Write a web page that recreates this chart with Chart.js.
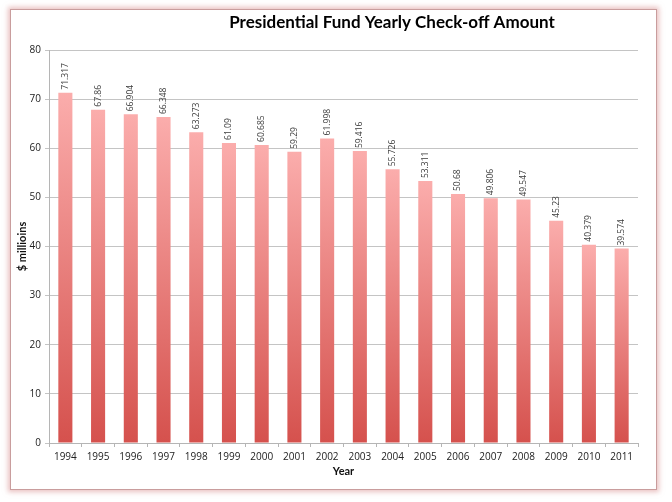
<!DOCTYPE html>
<html>
<head>
<meta charset="utf-8">
<script src="https://cdn.jsdelivr.net/npm/chart.js@4/dist/chart.umd.min.js"></script>
<style>
  html, body { margin: 0; padding: 0; background: #fff; }
  #wrap { position: relative; width: 672px; height: 502px; }
  #cadre {
    position: absolute; left: 10px; top: 9px; width: 645px; height: 479px;
    border: 1px solid #c99d9d; background: #fff;
    box-shadow: 0 0 5px 2px rgba(215, 140, 140, 0.55);
  }
  #graphique { position: absolute; left: 0; top: 0; }
</style>
</head>
<body>
<div id="wrap">
  <div id="cadre"></div>
  <canvas id="graphique" width="672" height="502"></canvas>
</div>
<script>
// Données
const annees = ['1994', '1995', '1996', '1997', '1998', '1999', '2000', '2001', '2002',
                '2003', '2004', '2005', '2006', '2007', '2008', '2009', '2010', '2011'];
const montants = [71.317, 67.86, 66.904, 66.348, 63.273, 61.09, 60.685, 59.29, 61.998,
                  59.416, 55.726, 53.311, 50.68, 49.806, 49.547, 45.23, 40.379, 39.574];
const etiquettes = ['71.317', '67.86', '66.904', '66.348', '63.273', '61.09', '60.685', '59.29', '61.998',
                    '59.416', '55.726', '53.311', '50.68', '49.806', '49.547', '45.23', '40.379', '39.574'];
const titre = 'Presidential Fund Yearly Check-off Amount';

// Dégradé par barre : rose en haut, rouge en bas
function degradeBarre(context) {
    const chart = context.chart;
    const area = chart.chartArea;
    if (!area || context.type !== 'data') return '#f0a0a0';
    const y = chart.scales.y;
    const haut = y.getPixelForValue(context.raw);
    const bas = y.getPixelForValue(0);
    const g = chart.ctx.createLinearGradient(0, haut, 0, bas);
    g.addColorStop(0, '#fbadac');
    g.addColorStop(1, '#d5514d');
    return g;
}

// Titre et valeurs verticales au-dessus des barres
const pluginTextes = {
    id: 'textes',
    afterDatasetsDraw(chart) {
        const ctx = chart.ctx;
        const meta = chart.getDatasetMeta(0);
        ctx.save();
        ctx.fillStyle = '#3a3a3a';
        ctx.font = '8.5px "Open Sans", sans-serif';
        ctx.textAlign = 'left';
        ctx.textBaseline = 'middle';
        meta.data.forEach((bar, i) => {
            ctx.save();
            ctx.translate(bar.x, bar.y - 3);
            ctx.rotate(-Math.PI / 2);
            ctx.fillText(etiquettes[i], 0, 0);
            ctx.restore();
        });
        ctx.fillStyle = '#000';
        ctx.font = 'bold 17px Lato, sans-serif';
        ctx.textAlign = 'center';
        ctx.fillText(titre, 392, 23);
        ctx.restore();
    }
};

const ctx = document.getElementById('graphique').getContext('2d');
new Chart(ctx, {
    type: 'bar',
    data: {
        labels: annees,
        datasets: [{
            data: montants,
            backgroundColor: degradeBarre,
            barPercentage: 0.43,
            categoryPercentage: 1
        }]
    },
    options: {
        responsive: false,
        animation: false,
        layout: { padding: { left: 10, right: 34, top: 50, bottom: 24 } },
        plugins: {
            legend: { display: false },
            tooltip: { enabled: false }
        },
        scales: {
            x: {
                afterFit: (scale) => { scale.height = 35; },
                grid: { offset: true, drawOnChartArea: false, color: '#b5b5b5', tickLength: 4 },
                border: { color: '#b5b5b5' },
                ticks: { color: '#222', font: { family: 'Open Sans', size: 10 }, padding: 4, maxRotation: 0 },
                title: { display: true, text: 'Year', color: '#111', font: { family: 'Lato', size: 11, weight: 'bold' }, padding: { top: 4, bottom: 0 } }
            },
            y: {
                min: 0,
                max: 80,
                afterFit: (scale) => { scale.width = 39; },
                grid: { color: '#c4c4c4', tickLength: 4 },
                border: { color: '#b5b5b5' },
                ticks: { stepSize: 10, color: '#222', font: { family: 'Open Sans', size: 10 }, padding: 4 },
                title: { display: true, text: '$ millioins', color: '#111', font: { family: 'Lato', size: 11, weight: 'bold' }, padding: { top: 6, bottom: 0 } }
            }
        }
    },
    plugins: [pluginTextes]
});
</script>
</body>
</html>
